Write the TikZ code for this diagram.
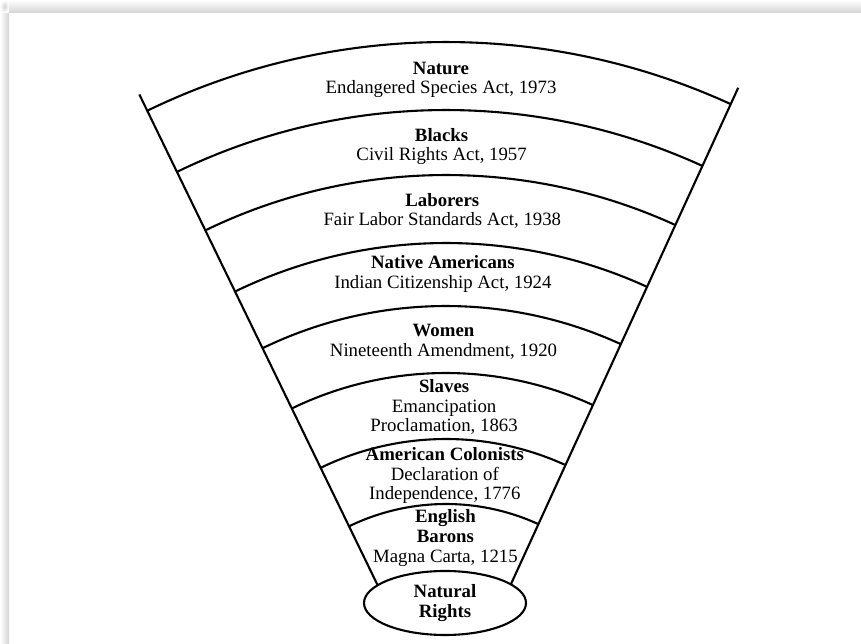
\documentclass[tikz,border=0pt]{standalone}
\usepackage{fontspec}
\setmainfont{Liberation Serif}
\usetikzlibrary{shapes.geometric}
\begin{document}
\begin{tikzpicture}[x=1pt,y=1pt,
  band/.style={line width=2.1pt, black},
  side/.style={line width=2.1pt, black},
  lbl/.style={align=center, inner sep=0pt, font=\fontsize{18.8}{19.7}\selectfont},
  root/.style={ellipse, draw, line width=2.1pt, fill=white, minimum width=162pt, minimum height=64pt, inner sep=0pt, align=center, font=\fontsize{18.8}{19.7}\selectfont\bfseries}]
\useasboundingbox (0,0) rectangle (861,644);
% page card with shadow
\fill[white] (0,0) rectangle (861,644);
\shade[top color=white, bottom color=black!17] (9,631) rectangle (861,644);
\shade[left color=white, right color=black!17] (0,0) rectangle (9,631);
\shade[inner color=black!17, outer color=white] (0,631) rectangle (9,644);
% apex of the fan
\coordinate (apex) at (446,-82);
\coordinate (Ltop) at ([shift={(115.9:702)}]apex);
\coordinate (Lbot) at ([shift={(115.9:135)}]apex);
\coordinate (Rtop) at ([shift={(65.4:702)}]apex);
\coordinate (Rbot) at ([shift={(65.4:135)}]apex);
\draw[side] (Ltop) -- (Lbot);
\draw[side] (Rtop) -- (Rbot);
% bands
\foreach \r in {684,616,551,483,420,353,287,222}{
  \draw[band] ([shift={(115.9:\r)}]apex) arc[start angle=115.9, end angle=65.4, radius=\r];
}
% root ellipse
\node[root] (nr) at (445,41) {Natural\\Rights};
% labels
\node[lbl] (nature) at (441,564) {\textbf{Nature}\\Endangered Species Act, 1973};
\node[lbl] (blacks) at (441.6,497.5) {\textbf{Blacks}\\Civil Rights Act, 1957};
\node[lbl] (laborers) at (442.3,433) {\textbf{Laborers}\\Fair Labor Standards Act, 1938};
\node[lbl] (native) at (442.9,370) {\textbf{Native Americans}\\Indian Citizenship Act, 1924};
\node[lbl] (women) at (443.5,302.5) {\textbf{Women}\\Nineteenth Amendment, 1920};
\node[lbl] (slaves) at (444.1,237) {\textbf{Slaves}\\Emancipation\\Proclamation, 1863};
\node[lbl] (colonists) at (444.8,168.5) {\textbf{American Colonists}\\Declaration of\\Independence, 1776};
\node[lbl] (barons) at (445.4,106) {\textbf{English}\\\textbf{Barons}\\Magna Carta, 1215};
\end{tikzpicture}
\end{document}
